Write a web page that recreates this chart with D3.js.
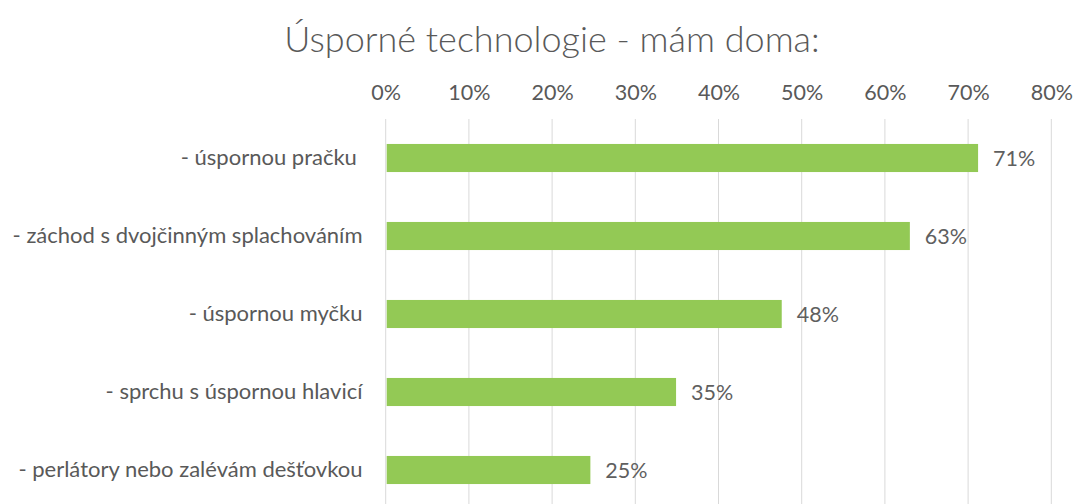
<!DOCTYPE html>
<html><head><meta charset="utf-8">
<script src="https://cdn.jsdelivr.net/npm/d3@7"></script>
<style>body{margin:0;background:#fff}svg{display:block}text{font-family:Lato,sans-serif;fill:#595959}</style>
</head><body><svg id="c" width="1073" height="504"></svg>
<script>
const title = "Úsporné technologie - mám doma:";
const categories = ["- úspornou pračku ", "- záchod s dvojčinným splachováním", "- úspornou myčku", "- sprchu s úspornou hlavicí", "- perlátory nebo zalévám dešťovkou"];
const values = [71.2, 63.0, 47.6, 34.9, 24.6];
const valueLabels = ["71%", "63%", "48%", "35%", "25%"];
const tickValues = [0, 10, 20, 30, 40, 50, 60, 70, 80];
const tickLabels = ["0%", "10%", "20%", "30%", "40%", "50%", "60%", "70%", "80%"];

const svg = d3.select("#c");
const x = d3.scaleLinear().domain([0, 80]).range([385.7, 1051.3]);
const y = d3.scaleBand().domain(categories).range([119, 509]).paddingInner(0.64).paddingOuter(0.32);

svg.append("text").attr("x", 552).attr("y", 52).attr("text-anchor", "middle")
  .style("font-size", "36px").style("font-weight", 300).text(title);

svg.append("g").selectAll("line").data(tickValues).join("line")
  .attr("x1", d => x(d)).attr("x2", d => x(d)).attr("y1", 119).attr("y2", 504)
  .attr("stroke", "#D9D9D9").attr("stroke-width", 1);

const ax = svg.append("g").attr("transform", "translate(0,100)")
  .call(d3.axisTop(x).tickValues(tickValues).tickFormat((d, i) => tickLabels[i]).tickSize(0).tickPadding(0));
ax.select(".domain").remove();
ax.selectAll("text").style("font-size", "21.5px").attr("fill", "#5f5f5f").style("font-family", "Lato,sans-serif");

const ay = svg.append("g").attr("transform", "translate(362.5,0)")
  .call(d3.axisLeft(y).tickSize(0).tickPadding(0));
ay.select(".domain").remove();
ay.selectAll("text").style("font-size", "22px").attr("fill", "#5f5f5f").style("font-family", "Lato,sans-serif").style("white-space", "pre");

svg.append("g").selectAll("rect").data(values).join("rect")
  .attr("x", x(0) + 1).attr("y", (d, i) => y(categories[i]))
  .attr("width", d => x(d) - x(0) - 1).attr("height", y.bandwidth())
  .attr("fill", "#93C955");

svg.append("g").selectAll("text").data(values).join("text")
  .attr("x", d => x(d) + 15).attr("y", (d, i) => y(categories[i]) + y.bandwidth() / 2)
  .attr("dy", "0.35em").style("font-size", "21.5px").style("fill", "#5f5f5f").text((d, i) => valueLabels[i]);
</script></body></html>
